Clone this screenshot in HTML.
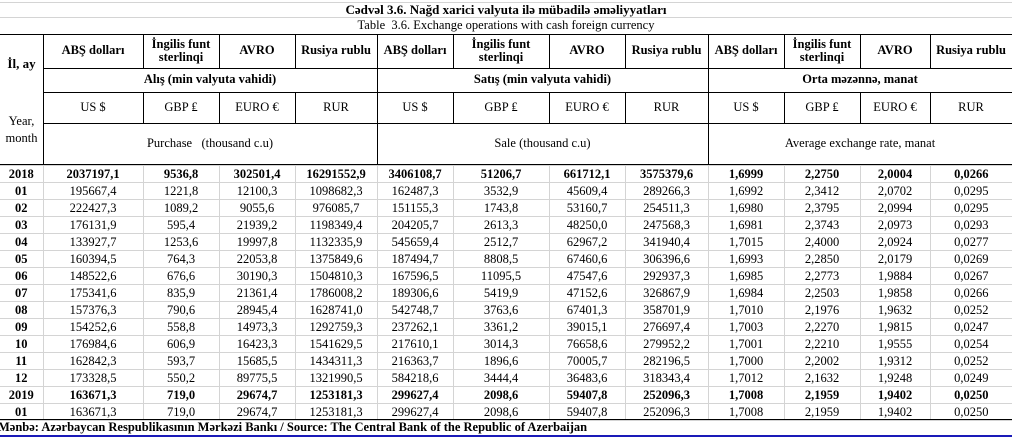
<!DOCTYPE html>
<html><head><meta charset="utf-8"><style>
*{margin:0;padding:0;box-sizing:border-box}
body{width:1012px;height:437px;background:#fff;overflow:hidden;font-family:"Liberation Serif",serif;color:#000}
#c{position:relative;width:1012px;height:437px}
.h,.v{position:absolute;background:#000}
.h{height:1px}.v{width:1px}
.g{background:#d4d4d4}
.t{position:absolute;display:flex;align-items:center;justify-content:center;text-align:center;line-height:1.05}
.b{font-weight:bold}
table{position:absolute;left:0;top:165px;border-collapse:collapse;table-layout:fixed;width:1012px;font-size:12.5px}
td{height:17px;border:1px solid #d4d4d4;text-align:center;padding:0;line-height:15px;white-space:nowrap}
tr.bb td{font-weight:bold}
td:first-child{font-weight:bold;border-left:none}
td:last-child{border-right:none}
</style></head><body><div id="c">
<div class="h g" style="top:2px;left:0;width:1012px"></div>
<div class="h g" style="top:17px;left:0;width:1012px"></div>
<div class="t b" style="left:0;top:2px;width:1012px;height:16px;font-size:13px">Cədvəl 3.6. Nağd xarici valyuta ilə mübadilə əməliyyatları</div>
<div class="t" style="left:0;top:17px;width:1012px;height:17px;font-size:12.5px">Table&nbsp; 3.6. Exchange operations with cash foreign currency</div>
<div class="h" style="top:34px;left:0;width:1012px"></div>
<div class="h" style="top:68px;left:43px;width:969px"></div>
<div class="h" style="top:92px;left:43px;width:969px"></div>
<div class="h" style="top:123px;left:43px;width:969px"></div>
<div class="h" style="top:164px;left:0;width:1012px"></div>
<div class="v" style="left:43px;top:34px;height:130px"></div>
<div class="v" style="left:377px;top:34px;height:130px"></div>
<div class="v" style="left:708px;top:34px;height:130px"></div>
<div class="v" style="left:143px;top:34px;height:34px"></div><div class="v" style="left:143px;top:92px;height:31px"></div>
<div class="v" style="left:219px;top:34px;height:34px"></div><div class="v" style="left:219px;top:92px;height:31px"></div>
<div class="v" style="left:295px;top:34px;height:34px"></div><div class="v" style="left:295px;top:92px;height:31px"></div>
<div class="v" style="left:453px;top:34px;height:34px"></div><div class="v" style="left:453px;top:92px;height:31px"></div>
<div class="v" style="left:549px;top:34px;height:34px"></div><div class="v" style="left:549px;top:92px;height:31px"></div>
<div class="v" style="left:625px;top:34px;height:34px"></div><div class="v" style="left:625px;top:92px;height:31px"></div>
<div class="v" style="left:784px;top:34px;height:34px"></div><div class="v" style="left:784px;top:92px;height:31px"></div>
<div class="v" style="left:860px;top:34px;height:34px"></div><div class="v" style="left:860px;top:92px;height:31px"></div>
<div class="v" style="left:930px;top:34px;height:34px"></div><div class="v" style="left:930px;top:92px;height:31px"></div>
<div class="t b" style="left:0;top:51px;width:43px;height:26px;font-size:13px">İl, ay</div>
<div class="t" style="left:0;top:113px;width:43px;height:34px;font-size:12.5px;line-height:17px">Year,<br>month</div>
<div class="t b" style="left:43px;top:34px;width:100px;height:34px;font-size:12.5px">ABŞ dolları</div>
<div class="t b" style="left:143px;top:34px;width:76px;height:34px;font-size:12.5px">İngilis funt<br>sterlinqi</div>
<div class="t b" style="left:219px;top:34px;width:76px;height:34px;font-size:12.5px">AVRO</div>
<div class="t b" style="left:295px;top:34px;width:82px;height:34px;font-size:12.5px">Rusiya rublu</div>
<div class="t b" style="left:377px;top:34px;width:76px;height:34px;font-size:12.5px">ABŞ dolları</div>
<div class="t b" style="left:453px;top:34px;width:96px;height:34px;font-size:12.5px">İngilis funt<br>sterlinqi</div>
<div class="t b" style="left:549px;top:34px;width:76px;height:34px;font-size:12.5px">AVRO</div>
<div class="t b" style="left:625px;top:34px;width:83px;height:34px;font-size:12.5px">Rusiya rublu</div>
<div class="t b" style="left:708px;top:34px;width:76px;height:34px;font-size:12.5px">ABŞ dolları</div>
<div class="t b" style="left:784px;top:34px;width:76px;height:34px;font-size:12.5px">İngilis funt<br>sterlinqi</div>
<div class="t b" style="left:860px;top:34px;width:70px;height:34px;font-size:12.5px">AVRO</div>
<div class="t b" style="left:930px;top:34px;width:82px;height:34px;font-size:12.5px">Rusiya rublu</div>
<div class="t b" style="left:43px;top:68px;width:334px;height:24px;font-size:12.5px">Alış (min valyuta vahidi)</div>
<div class="t b" style="left:377px;top:68px;width:331px;height:24px;font-size:12.5px">Satış (min valyuta vahidi)</div>
<div class="t b" style="left:708px;top:68px;width:304px;height:24px;font-size:12.5px">Orta məzənnə, manat</div>
<div class="t" style="left:43px;top:92px;width:100px;height:31px;font-size:12.5px">US $</div>
<div class="t" style="left:143px;top:92px;width:76px;height:31px;font-size:12.5px">GBP ₤</div>
<div class="t" style="left:219px;top:92px;width:76px;height:31px;font-size:12.5px">EURO €</div>
<div class="t" style="left:295px;top:92px;width:82px;height:31px;font-size:12.5px">RUR</div>
<div class="t" style="left:377px;top:92px;width:76px;height:31px;font-size:12.5px">US $</div>
<div class="t" style="left:453px;top:92px;width:96px;height:31px;font-size:12.5px">GBP ₤</div>
<div class="t" style="left:549px;top:92px;width:76px;height:31px;font-size:12.5px">EURO €</div>
<div class="t" style="left:625px;top:92px;width:83px;height:31px;font-size:12.5px">RUR</div>
<div class="t" style="left:708px;top:92px;width:76px;height:31px;font-size:12.5px">US $</div>
<div class="t" style="left:784px;top:92px;width:76px;height:31px;font-size:12.5px">GBP ₤</div>
<div class="t" style="left:860px;top:92px;width:70px;height:31px;font-size:12.5px">EURO €</div>
<div class="t" style="left:930px;top:92px;width:82px;height:31px;font-size:12.5px">RUR</div>
<div class="t" style="left:43px;top:123px;width:334px;height:41px;font-size:12.5px">Purchase &nbsp; (thousand c.u)</div>
<div class="t" style="left:377px;top:123px;width:331px;height:41px;font-size:12.5px">Sale (thousand c.u)</div>
<div class="t" style="left:708px;top:123px;width:304px;height:41px;font-size:12.5px">Average exchange rate, manat</div>
<table>
<colgroup><col style="width:43px"><col style="width:100px"><col style="width:76px"><col style="width:76px"><col style="width:82px"><col style="width:76px"><col style="width:96px"><col style="width:76px"><col style="width:83px"><col style="width:76px"><col style="width:76px"><col style="width:70px"><col style="width:82px"></colgroup>
<tr class="bb"><td>2018</td><td>2037197,1</td><td>9536,8</td><td>302501,4</td><td>16291552,9</td><td>3406108,7</td><td>51206,7</td><td>661712,1</td><td>3575379,6</td><td>1,6999</td><td>2,2750</td><td>2,0004</td><td>0,0266</td></tr>
<tr><td>01</td><td>195667,4</td><td>1221,8</td><td>12100,3</td><td>1098682,3</td><td>162487,3</td><td>3532,9</td><td>45609,4</td><td>289266,3</td><td>1,6992</td><td>2,3412</td><td>2,0702</td><td>0,0295</td></tr>
<tr><td>02</td><td>222427,3</td><td>1089,2</td><td>9055,6</td><td>976085,7</td><td>151155,3</td><td>1743,8</td><td>53160,7</td><td>254511,3</td><td>1,6980</td><td>2,3795</td><td>2,0994</td><td>0,0295</td></tr>
<tr><td>03</td><td>176131,9</td><td>595,4</td><td>21939,2</td><td>1198349,4</td><td>204205,7</td><td>2613,3</td><td>48250,0</td><td>247568,3</td><td>1,6981</td><td>2,3743</td><td>2,0973</td><td>0,0293</td></tr>
<tr><td>04</td><td>133927,7</td><td>1253,6</td><td>19997,8</td><td>1132335,9</td><td>545659,4</td><td>2512,7</td><td>62967,2</td><td>341940,4</td><td>1,7015</td><td>2,4000</td><td>2,0924</td><td>0,0277</td></tr>
<tr><td>05</td><td>160394,5</td><td>764,3</td><td>22053,8</td><td>1375849,6</td><td>187494,7</td><td>8808,5</td><td>67460,6</td><td>306396,6</td><td>1,6993</td><td>2,2850</td><td>2,0179</td><td>0,0269</td></tr>
<tr><td>06</td><td>148522,6</td><td>676,6</td><td>30190,3</td><td>1504810,3</td><td>167596,5</td><td>11095,5</td><td>47547,6</td><td>292937,3</td><td>1,6985</td><td>2,2773</td><td>1,9884</td><td>0,0267</td></tr>
<tr><td>07</td><td>175341,6</td><td>835,9</td><td>21361,4</td><td>1786008,2</td><td>189306,6</td><td>5419,9</td><td>47152,6</td><td>326867,9</td><td>1,6984</td><td>2,2503</td><td>1,9858</td><td>0,0266</td></tr>
<tr><td>08</td><td>157376,3</td><td>790,6</td><td>28945,4</td><td>1628741,0</td><td>542748,7</td><td>3763,6</td><td>67401,3</td><td>358701,9</td><td>1,7010</td><td>2,1976</td><td>1,9632</td><td>0,0252</td></tr>
<tr><td>09</td><td>154252,6</td><td>558,8</td><td>14973,3</td><td>1292759,3</td><td>237262,1</td><td>3361,2</td><td>39015,1</td><td>276697,4</td><td>1,7003</td><td>2,2270</td><td>1,9815</td><td>0,0247</td></tr>
<tr><td>10</td><td>176984,6</td><td>606,9</td><td>16423,3</td><td>1541629,5</td><td>217610,1</td><td>3014,3</td><td>76658,6</td><td>279952,2</td><td>1,7001</td><td>2,2210</td><td>1,9555</td><td>0,0254</td></tr>
<tr><td>11</td><td>162842,3</td><td>593,7</td><td>15685,5</td><td>1434311,3</td><td>216363,7</td><td>1896,6</td><td>70005,7</td><td>282196,5</td><td>1,7000</td><td>2,2002</td><td>1,9312</td><td>0,0252</td></tr>
<tr><td>12</td><td>173328,5</td><td>550,2</td><td>89775,5</td><td>1321990,5</td><td>584218,6</td><td>3444,4</td><td>36483,6</td><td>318343,4</td><td>1,7012</td><td>2,1632</td><td>1,9248</td><td>0,0249</td></tr>
<tr class="bb"><td>2019</td><td>163671,3</td><td>719,0</td><td>29674,7</td><td>1253181,3</td><td>299627,4</td><td>2098,6</td><td>59407,8</td><td>252096,3</td><td>1,7008</td><td>2,1959</td><td>1,9402</td><td>0,0250</td></tr>
<tr><td>01</td><td>163671,3</td><td>719,0</td><td>29674,7</td><td>1253181,3</td><td>299627,4</td><td>2098,6</td><td>59407,8</td><td>252096,3</td><td>1,7008</td><td>2,1959</td><td>1,9402</td><td>0,0250</td></tr>
</table>
<div class="h" style="top:419px;left:0;width:1012px"></div>
<div class="b" style="position:absolute;left:-2px;top:420px;font-size:12.5px;line-height:14px;white-space:nowrap">Mənbə: Azərbaycan Respublikasının Mərkəzi Bankı / Source: The Central Bank of the Republic of Azerbaijan</div>
<div class="h" style="top:435px;left:0;width:1012px;height:2px;background:#1a1ab8"></div>
</div></body></html>
